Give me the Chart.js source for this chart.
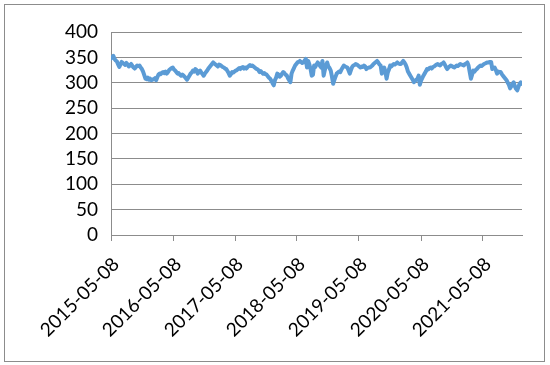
<!DOCTYPE html>
<html>
<head>
<meta charset="utf-8">
<script src="https://cdn.jsdelivr.net/npm/chart.js@4/dist/chart.umd.min.js"></script>
<style>
  body { margin: 0; background: #fff; }
  #wrap { position: relative; width: 550px; height: 365px; }
  #frame { position: absolute; left: 4px; top: 4px; width: 539px; height: 356px; border: 1px solid #8c8c8c; pointer-events: none; }
</style>
</head>
<body>
<div id="wrap">
  <canvas id="c" width="550" height="365"></canvas>
  <div id="frame"></div>
</div>
<script>
// tick labels on the x axis and where they sit (days after the first date)
const tickLabels = ['2015-05-08', '2016-05-08', '2017-05-08', '2018-05-08', '2019-05-08', '2020-05-08', '2021-05-08']
const tickDays = [0, 366, 731, 1096, 1461, 1827, 2192]
const stepDays = 7

// weekly values
const values = [
  348, 350, 353, 347, 344, 342, 336, 331, 336, 341,
  339, 337, 335, 339, 336, 332, 334, 337, 333, 330,
  328, 331, 334, 333, 334, 330, 327, 322, 315, 308,
  307, 310, 306, 308, 305, 306, 307, 309, 305, 311,
  316, 318, 317, 320, 321, 319, 322, 318, 321, 325,
  327, 329, 330, 326, 324, 321, 318, 319, 316, 314,
  316, 314, 312, 309, 306, 310, 314, 318, 320, 324,
  322, 327, 325, 318, 322, 324, 320, 317, 314, 318,
  321, 324, 328, 331, 334, 337, 340, 338, 336, 334,
  332, 336, 335, 333, 331, 330, 328, 327, 323, 319,
  314, 317, 321, 320, 322, 324, 325, 327, 329, 327,
  330, 331, 328, 330, 328, 331, 333, 335, 333, 334,
  332, 330, 328, 327, 325, 321, 323, 320, 318, 319,
  317, 316, 313, 310, 308, 304, 299, 295, 305, 310,
  318, 316, 312, 314, 318, 321, 319, 316, 314, 309,
  305, 301, 318, 324, 329, 334, 337, 340, 341, 343,
  341, 339, 340, 344, 347, 330, 343, 336, 327, 314,
  316, 334, 331, 336, 340, 337, 333, 330, 343, 314,
  325, 334, 340, 332, 329, 324, 312, 298, 305, 312,
  318, 320, 322, 321, 326, 330, 334, 332, 331, 330,
  324, 318, 325, 331, 334, 335, 337, 336, 334, 332,
  330, 332, 331, 334, 332, 327, 329, 330, 330, 332,
  334, 337, 339, 341, 343, 340, 336, 334, 318, 325,
  330, 322, 308, 320, 326, 334, 332, 335, 337, 336,
  338, 340, 338, 337, 337, 340, 343, 340, 336, 330,
  322, 318, 314, 310, 306, 301, 304, 306, 308, 314,
  296, 304, 309, 314, 318, 322, 327, 326, 329, 330,
  328, 331, 332, 334, 336, 337, 335, 334, 337, 338,
  340, 336, 331, 327, 330, 332, 334, 333, 331, 330,
  332, 334, 333, 335, 337, 336, 335, 334, 337, 338,
  340, 334, 321, 308, 316, 324, 322, 325, 327, 330,
  332, 334, 333, 335, 337, 338, 339, 340, 340, 341,
  341, 327, 329, 330, 325, 318, 322, 321, 321, 317,
  314, 311, 308, 305, 300, 296, 289, 293, 298, 301,
  293, 288, 285, 292, 298, 301, 298
]

const points = values.map((v, i) => ({ x: i * stepDays, y: v }))
const gridGray = '#8c8c8c'
const font = { family: 'Lato', size: 19 }

const chart = new Chart(document.getElementById('c'), {
  type: 'line',
  data: {
    datasets: [{
      data: points,
      borderColor: '#5b9bd5',
      borderWidth: 4,
      borderJoinStyle: 'round',
      borderCapStyle: 'round',
      pointRadius: 0,
      tension: 0,
      fill: false
    }]
  },
  options: {
    responsive: false,
    animation: false,
    layout: { padding: { top: 32, right: 28, left: 0, bottom: 0 } },
    plugins: { legend: { display: false }, tooltip: { enabled: false } },
    scales: {
      x: {
        type: 'linear',
        min: 0,
        max: (values.length - 1) * stepDays,
        afterBuildTicks: function(scale) {
          scale.ticks = tickDays.map(d => ({ value: d }))
        },
        afterFit: function(scale) { scale.height = 130 },
        ticks: {
          autoSkip: false,
          maxRotation: 45,
          minRotation: 45,
          color: '#000',
          font: font,
          padding: 12,
          labelOffset: 5,
          callback: function(value, index) { return tickLabels[index] }
        },
        grid: { drawOnChartArea: false, drawTicks: true, tickLength: 6, color: gridGray },
        border: { display: true, color: gridGray }
      },
      y: {
        min: 0,
        max: 400,
        afterFit: function(scale) { scale.width = 111 },
        ticks: { stepSize: 50, autoSkip: false, color: '#000', font: font, padding: 13 },
        grid: { color: gridGray, drawTicks: false },
        border: { display: true, color: gridGray }
      }
    }
  }
})
</script>
</body>
</html>
